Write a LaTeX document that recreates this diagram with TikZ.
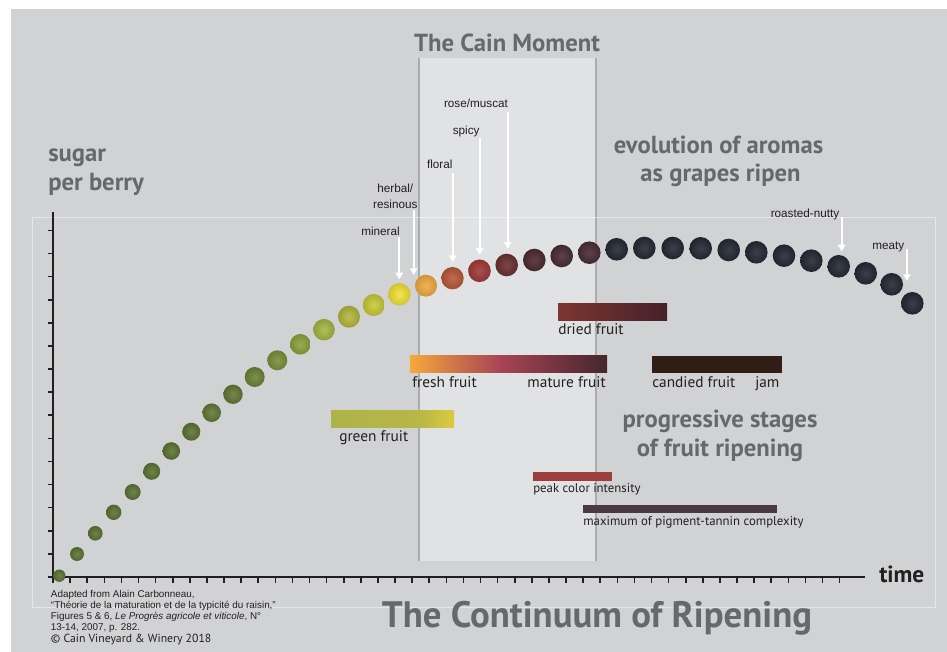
\documentclass[tikz,border=0pt]{standalone}
\usepackage{fontspec}
\setmainfont{Liberation Sans}
\newfontfamily\hum{PT Sans}
\usetikzlibrary{arrows.meta}

% palette
\definecolor{bggray}{HTML}{D1D2D4}
\definecolor{panelfill}{HTML}{E1E2E4}
\definecolor{panelline}{HTML}{A9ABAE}
\definecolor{ink}{HTML}{231F20}
\definecolor{headgray}{HTML}{67686B}
% berry colours, green to black
\definecolor{gA}{HTML}{5F7536}
\definecolor{gB}{HTML}{657A38}
\definecolor{gC}{HTML}{6E8438}
\definecolor{gD}{HTML}{7C9139}
\definecolor{gE}{HTML}{90A23E}
\definecolor{gF}{HTML}{A8B845}
\definecolor{gG}{HTML}{B5B83E}
\definecolor{gH}{HTML}{C9CC38}
\definecolor{gY}{HTML}{F2E33A}
\definecolor{gO}{HTML}{F2AB45}
\definecolor{rA}{HTML}{B95A3C}
\definecolor{rB}{HTML}{A13B3A}
\definecolor{rC}{HTML}{6C3234}
\definecolor{rD}{HTML}{4E2C33}
\definecolor{rE}{HTML}{4A2D37}
\definecolor{nv}{HTML}{262A35}
% bar colours
\definecolor{dryA}{HTML}{7C3530}
\definecolor{dryB}{HTML}{46212A}
\definecolor{frA}{HTML}{F5A93A}
\definecolor{frB}{HTML}{D27A48}
\definecolor{frC}{HTML}{A84454}
\definecolor{frD}{HTML}{45262E}
\definecolor{candied}{HTML}{301D16}
\definecolor{grA}{HTML}{ADB34A}
\definecolor{grB}{HTML}{B8B747}
\definecolor{grC}{HTML}{DCCA40}
\definecolor{peak}{HTML}{9A3E3E}
\definecolor{pigm}{HTML}{4B3941}

\begin{document}
\begin{tikzpicture}[x=0.75pt,y=-0.75pt,
  grape/.style 2 args={circle, inner sep=0pt, minimum size={1.5pt*#1},
    inner color=#2!90!white, outer color=#2!86!black},
  axisline/.style={draw=ink, line width=1.7pt},
  tickline/.style={draw=ink, line width=1.2pt},
  aro/.style={draw=white, line width=1.4pt, -{Triangle[width=5.5pt,length=5pt]}},
  aroma/.style={inner sep=0pt, text=ink, font=\fontsize{8.8}{10}\selectfont},
  heading/.style={inner sep=0pt, text=headgray, font=\hum\bfseries\fontsize{18.5}{20}\selectfont},
  barlabel/.style={inner sep=0pt, text=ink, font=\hum\fontsize{11.5}{13}\selectfont},
  smalllabel/.style={inner sep=0pt, text=ink, font=\hum\fontsize{9.6}{11}\selectfont},
  note/.style={inner sep=0pt, text=ink, font=\fontsize{7.4}{9}\selectfont, anchor=base west}]

\useasboundingbox (0,0) rectangle (947,652);
\fill[white] (0,0) rectangle (947,652);
\fill[bggray] (11,9) rectangle (947,652);

% the Cain Moment band
\fill[panelfill] (419.3,58.5) rectangle (596.3,561);
\draw[panelline, line width=1.6pt] (419.3,58.5) -- (419.3,561);
\draw[panelline, line width=1.6pt] (596.3,58.5) -- (596.3,561);

% faint inner frame
\draw[white, opacity=0.45, line width=0.75pt] (32,218) rectangle (935,607);

% axes with ticks
\draw[axisline] (53,212) -- (53,583);
\draw[axisline] (47.5,577) -- (865,577);
\foreach \k in {1,...,15}
  \draw[tickline] (47.5,{577-23.1*\k}) -- (53,{577-23.1*\k});
\foreach \k in {1,...,46}
  \draw[tickline] ({53+17.1*\k},577) -- ({53+17.1*\k},583);

% berries along the sugar curve
\foreach \bx/\by/\br/\bc [count=\i] in {
  59.3/575.7/6.2/gA, 77/554/7/gA, 95.3/533.3/7.3/gA, 113.7/512.3/7.7/gA,
  132.7/492/8/gA, 151.7/471.3/8.5/gA, 171.3/451/8.8/gA, 191.3/431.7/9/gA,
  211.7/412.7/9.3/gB, 233/394.3/9.7/gB, 254.7/377/10/gC, 277.3/360.3/10/gD,
  300.3/344.3/10.3/gE, 324/329.7/10.8/gF, 349/316.7/11/gG, 373.7/305/11/gH,
  399.3/294.3/11.3/gY, 426/285.7/11/gO, 452.5/278.2/11.2/rA, 479.5/270.8/11.3/rB,
  506.7/265/11.3/rC, 534.3/260/11.3/rD, 561.7/256/11.3/rE, 589.3/252.7/11.3/rE,
  616.7/249.3/11.3/nv, 644.3/248/11.3/nv, 672.7/248/11.3/nv, 700.7/248.3/11.3/nv,
  728.7/250/11.3/nv, 756.3/252.3/11.3/nv, 784/255.7/11.3/nv, 811.3/260.7/11.3/nv,
  838.7/266.3/11.3/nv, 865.7/273.3/11.3/nv, 891.7/284.3/11.3/nv, 912.3/303.3/11.3/nv}
  \node[grape={\br}{\bc}] (b\i) at (\bx,\by) {};

% ripening stage bars
\shade[left color=dryA, right color=dryB] (558,304) rectangle (667,321);
\shade[left color=frA, right color=frB] (410,356) rectangle (450.5,373);
\shade[left color=frB, right color=frC] (450,356) rectangle (500.5,373);
\shade[left color=frC, right color=frD] (500,356) rectangle (607,373);
\fill[candied] (652,356) rectangle (782,373);
\shade[left color=grA, right color=grB] (331,411) rectangle (420.5,428);
\shade[left color=grB, right color=grC] (420,411) rectangle (454,428);
\fill[peak] (533,472) rectangle (612,481);
\fill[pigm] (583,505) rectangle (777,513);

% bar labels
\node[barlabel, anchor=base west] (l-dried) at (558,335) {dried fruit};
\node[barlabel, anchor=base west] (l-fresh) at (412,388) {fresh fruit};
\node[barlabel, anchor=base east] (l-mature) at (606,388) {mature fruit};
\node[barlabel, anchor=base west] (l-candied) at (652,388) {candied fruit};
\node[barlabel, anchor=base west] (l-jam) at (755,388) {jam};
\node[barlabel, anchor=base west] (l-green) at (339,442) {green fruit};
\node[smalllabel, anchor=base west] (l-peak) at (533,493) {peak color intensity};
\node[smalllabel, anchor=base west] (l-pigm) at (583,526) {maximum of pigment-tannin complexity};

% aroma labels and their arrows
\node[aroma, anchor=base east] (t-min) at (400,235.5) {mineral};
\node[aroma, anchor=base] (t-herb1) at (395.3,192.5) {herbal/};
\node[aroma, anchor=base] (t-herb2) at (395.3,208.5) {resinous};
\node[aroma, anchor=base east] (t-flo) at (452.8,168.5) {floral};
\node[aroma, anchor=base east] (t-spi) at (479.8,135) {spicy};
\node[aroma, anchor=base east] (t-rose) at (508.2,107.5) {rose/muscat};
\node[aroma, anchor=base east] (t-roast) at (839.5,217.5) {roasted-nutty};
\node[aroma, anchor=base east] (t-meat) at (904.5,250) {meaty};

\coordinate (a-min) at (399.3,237);
\coordinate (a-herb) at (413.7,210.5);
\coordinate (e-herb) at (413.7,275);
\coordinate (a-flo) at (452.7,173);
\coordinate (a-spi) at (479.7,138.5);
\coordinate (a-rose) at (507.7,112);
\coordinate (a-roast) at (841.7,217.5);
\coordinate (a-meat) at (907,249.5);
\coordinate (e-meat) at (907,281);

\draw[aro, shorten >=2.5pt] (a-min) -- (a-min |- b17.north);
\draw[aro] (a-herb) -- (e-herb);
\draw[aro, shorten >=3.5pt] (a-flo) -- (a-flo |- b19.north);
\draw[aro, shorten >=3.5pt] (a-spi) -- (a-spi |- b20.north);
\draw[aro, shorten >=3.5pt] (a-rose) -- (a-rose |- b21.north);
\draw[aro, shorten >=2.5pt] (a-roast) -- (a-roast |- b33.north);
\draw[aro] (a-meat) -- (e-meat);

% headings
\node[heading, anchor=base] (cain) at (507,51.7) {The Cain Moment};
\node[heading, anchor=base west] (sug1) at (48,162) {sugar};
\node[heading, anchor=base west] (sug2) at (48,191) {per berry};
\node[heading, anchor=base] (evo1) at (718.5,153.3) {evolution of aromas};
\node[heading, anchor=base] (evo2) at (720.5,181.7) {as grapes ripen};
\node[heading, anchor=base] (prog1) at (720,428) {progressive stages};
\node[heading, anchor=base] (prog2) at (720,457) {of fruit ripening};
\node[heading, anchor=base west, text=ink, font=\hum\bfseries\fontsize{17.5}{19}\selectfont] (time) at (879,582) {time};
\node[heading, anchor=base, font=\hum\bfseries\fontsize{27.6}{30}\selectfont] (title) at (597,627.3) {The Continuum of Ripening};

% source note
\node[note] (n1) at (50.7,597.7) {Adapted from Alain Carbonneau,};
\node[note] (n2) at (50.7,608.4) {“Théorie de la maturation et de la typicité du raisin,”};
\node[note] (n3) at (50.7,619.2) {Figures 5 \& 6, \textit{Le Progrès agricole et viticole}, N°};
\node[note] (n4) at (50.7,630) {13-14, 2007, p. 282.};
\node[note, font=\hum\fontsize{8.8}{10}\selectfont] (n5) at (50.7,642) {© Cain Vineyard \& Winery 2018};
\end{tikzpicture}
\end{document}
